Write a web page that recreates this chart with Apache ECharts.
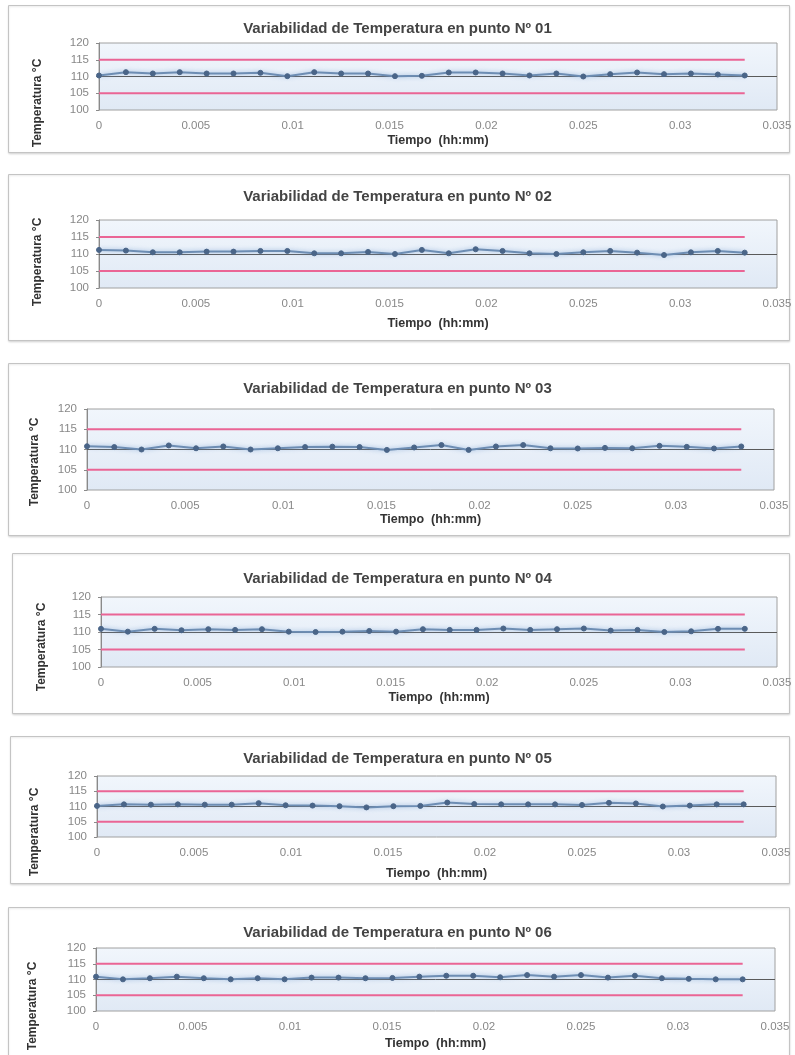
<!DOCTYPE html>
<html>
<head>
<meta charset="utf-8">
<script src="https://cdn.jsdelivr.net/npm/echarts@6/dist/echarts.min.js"></script>
<style>
  html, body { margin: 0; padding: 0; background: #ffffff; }
  #chart { width: 795px; height: 1055px; }
</style>
</head>
<body>
<div id="chart"></div>
<script>
// ---- Data ----
const timeDays = [0, 0.001389, 0.002778, 0.004167, 0.005556, 0.006944, 0.008333, 0.009722,
  0.011111, 0.0125, 0.013889, 0.015278, 0.016667, 0.018056, 0.019444, 0.020833,
  0.022222, 0.023611, 0.025, 0.026389, 0.027778, 0.029167, 0.030556, 0.031944, 0.033333];

const pointLabels = ["01", "02", "03", "04", "05", "06"];

const temp01 = [110.3, 111.3, 110.9, 111.3, 110.9, 110.9, 111.1, 110.1, 111.3, 110.9, 110.9, 110.1,
  110.2, 111.2, 111.2, 110.9, 110.3, 110.9, 110.0, 110.7, 111.2, 110.7, 110.9, 110.6, 110.3];
const temp02 = [111.2, 111.0, 110.5, 110.5, 110.7, 110.7, 110.9, 110.9, 110.2, 110.2, 110.6, 110.0,
  111.2, 110.2, 111.4, 110.9, 110.2, 110.0, 110.5, 110.9, 110.4, 109.7, 110.5, 110.9, 110.4];
const temp03 = [110.8, 110.6, 110.0, 111.0, 110.3, 110.75, 110.0, 110.3, 110.6, 110.7, 110.6, 109.9,
  110.5, 111.1, 109.9, 110.75, 111.1, 110.3, 110.25, 110.4, 110.3, 110.9, 110.65, 110.25, 110.75];
const temp04 = [110.9, 110.1, 110.9, 110.5, 110.8, 110.6, 110.8, 110.1, 110.0, 110.1, 110.3, 110.1,
  110.8, 110.6, 110.6, 111.0, 110.6, 110.8, 111.0, 110.4, 110.6, 110.0, 110.2, 110.9, 110.9];
const temp05 = [110.2, 110.7, 110.6, 110.7, 110.6, 110.6, 111.1, 110.4, 110.3, 110.1, 109.7, 110.1,
  110.2, 111.3, 110.8, 110.7, 110.7, 110.7, 110.5, 111.2, 111.0, 110.0, 110.3, 110.7, 110.7];
const temp06 = [110.9, 110.05, 110.4, 110.9, 110.4, 110.05, 110.4, 110.05, 110.6, 110.6, 110.4, 110.5,
  110.9, 111.2, 111.2, 110.7, 111.4, 110.9, 111.4, 110.6, 111.2, 110.4, 110.2, 110.05, 110.05];

const temps = [temp01, temp02, temp03, temp04, temp05, temp06];
const setPoint = 110;
const upperLimit = 115;
const lowerLimit = 105;
const xTicks = [0, 0.005, 0.01, 0.015, 0.02, 0.025, 0.03, 0.035];
const yTicks = [100, 105, 110, 115, 120];

// ---- Layout ----
const panels = [
  { box: [8, 5, 781, 147],   grid: [99, 43, 777, 110],  title: 25,  yName: [38, 103],  tiempo: 24 },
  { box: [8, 174, 781, 166], grid: [99, 220, 777, 288], title: 193, yName: [38, 262],  tiempo: 29 },
  { box: [8, 363, 781, 172], grid: [87, 409, 774, 490], title: 385, yName: [35, 462],  tiempo: 22 },
  { box: [12, 553, 777, 160], grid: [101, 597, 777, 667], title: 575, yName: [42, 647], tiempo: 24 },
  { box: [10, 736, 779, 147], grid: [97, 776, 776, 837], title: 755, yName: [35, 832],  tiempo: 30 },
  { box: [8, 907, 781, 160], grid: [96, 948, 775, 1011], title: 929, yName: [33, 1006], tiempo: 26 }
];

const FONT = "'Liberation Sans', Arial, sans-serif";

const option = {
  animation: false,
  backgroundColor: '#ffffff',
  title: [], grid: [], xAxis: [], yAxis: [], series: [], graphic: []
};

panels.forEach((p, i) => {
  option.graphic.push({
    type: 'rect', z: -10,
    shape: { x: p.box[0] + 0.5, y: p.box[1] + 0.5, width: p.box[2], height: p.box[3] },
    style: { fill: '#ffffff', stroke: '#c4c4c4', lineWidth: 1, shadowColor: 'rgba(0,0,0,0.12)', shadowBlur: 2, shadowOffsetY: 1 }
  });
  option.graphic.push({
    type: 'text', z: 10,
    x: p.yName[0], y: p.yName[1], rotation: Math.PI / 2,
    style: { text: 'Temperatura °C', fill: '#333', font: 'bold 12px ' + FONT, align: 'center', verticalAlign: 'middle' }
  });

  option.title.push({
    text: 'Variabilidad de Temperatura en punto Nº ' + pointLabels[i],
    left: 'center', top: p.title - 9,
    textStyle: { fontFamily: FONT, fontSize: 15, fontWeight: 'bold', color: '#444' }
  });

  option.grid.push({
    left: p.grid[0], top: p.grid[1],
    width: p.grid[2] - p.grid[0], height: p.grid[3] - p.grid[1],
    show: true, borderColor: '#a0a0a0', borderWidth: 1,
    backgroundColor: new echarts.graphic.LinearGradient(0, 0, 0, 1, [
      { offset: 0, color: '#f1f6fc' }, { offset: 1, color: '#e0e9f5' }
    ])
  });

  option.xAxis.push({
    type: 'value', gridIndex: i,
    min: xTicks[0], max: xTicks[xTicks.length - 1], interval: xTicks[1] - xTicks[0],
    name: 'Tiempo  (hh:mm)', nameLocation: 'middle', nameGap: p.tiempo,
    nameTextStyle: { fontFamily: FONT, fontSize: 12.5, fontWeight: 'bold', color: '#333' },
    axisLine: { show: false }, axisTick: { show: false },
    axisLabel: { fontFamily: FONT, fontSize: 11.5, color: '#888', margin: 10 },
    splitLine: { show: false }
  });

  option.yAxis.push({
    type: 'value', gridIndex: i,
    min: yTicks[0], max: yTicks[yTicks.length - 1], interval: yTicks[1] - yTicks[0],
    axisLine: { show: true, lineStyle: { color: '#8a8a8a' } },
    axisTick: { show: true, length: 3, lineStyle: { color: '#8a8a8a' } },
    axisLabel: { fontFamily: FONT, fontSize: 11.5, color: '#888', margin: 10 },
    splitLine: { show: false }
  });

  option.series.push({
    type: 'line', xAxisIndex: i, yAxisIndex: i, symbol: 'none', silent: true,
    data: timeDays.map(t => [t, upperLimit]),
    lineStyle: { color: '#ea6595', width: 1.8 }
  });
  option.series.push({
    type: 'line', xAxisIndex: i, yAxisIndex: i, symbol: 'none', silent: true,
    data: timeDays.map(t => [t, lowerLimit]),
    lineStyle: { color: '#ea6595', width: 1.8 }
  });
  option.series.push({
    type: 'line', xAxisIndex: i, yAxisIndex: i,
    data: timeDays.map((t, k) => [t, temps[i][k]]),
    symbol: 'circle', symbolSize: 5,
    lineStyle: { color: '#6d8db3', width: 2, shadowColor: 'rgba(120,160,210,0.7)', shadowBlur: 4 },
    itemStyle: { color: '#4a6588', borderColor: '#4a6588' },
    z: 5,
    markLine: {
      silent: true, symbol: 'none', label: { show: false },
      lineStyle: { color: '#5a5a5a', width: 1, type: 'solid' },
      data: [{ yAxis: setPoint }]
    }
  });
});

const chart = echarts.init(document.getElementById('chart'), null, { renderer: 'canvas' });
chart.setOption(option);
</script>
</body>
</html>
